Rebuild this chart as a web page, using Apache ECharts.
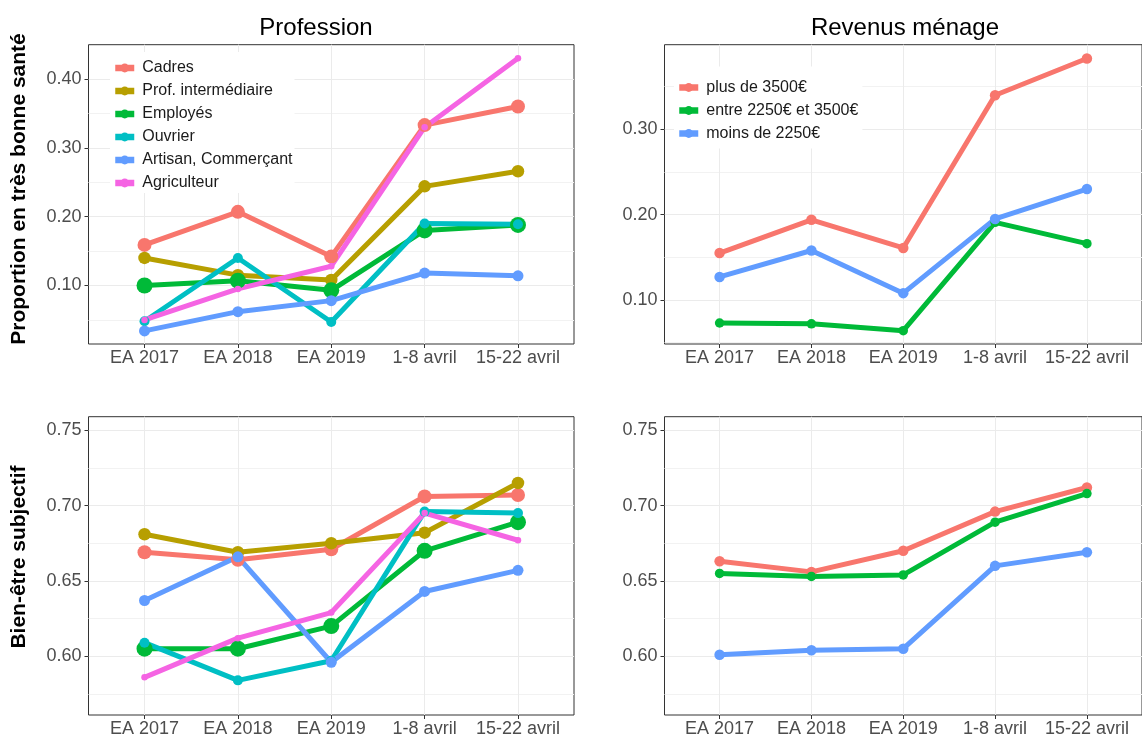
<!DOCTYPE html>
<html>
<head>
<meta charset="utf-8">
<script src="https://cdn.jsdelivr.net/npm/echarts@6/dist/echarts.min.js"></script>
<style>
html,body{margin:0;padding:0;background:#fff;}
#chart{width:1142px;height:738px;}
</style>
</head>
<body>
<div id="chart"></div>
<script>
// ---- data ----
const periods = ['EA 2017', 'EA 2018', 'EA 2019', '1-8 avril', '15-22 avril'];
const professions = ['Cadres', 'Prof. intermédiaire', 'Employés', 'Ouvrier', 'Artisan, Commerçant', 'Agriculteur'];
const revenus = ['plus de 3500€', 'entre 2250€ et 3500€', 'moins de 2250€'];

// Proportion en très bonne santé — Profession
const santeCadres = [0.159, 0.207, 0.142, 0.333, 0.360];
const santeProfInter = [0.140, 0.115, 0.108, 0.244, 0.266];
const santeEmployes = [0.100, 0.107, 0.093, 0.180, 0.188];
const santeOuvrier = [0.048, 0.140, 0.047, 0.190, 0.189];
const santeArtisan = [0.034, 0.062, 0.078, 0.118, 0.114];
const santeAgriculteur = [0.050, 0.095, 0.128, 0.330, 0.430];

// Proportion en très bonne santé — Revenus ménage
const santePlus3500 = [0.155, 0.194, 0.161, 0.340, 0.383];
const santeEntre = [0.073, 0.072, 0.064, 0.191, 0.166];
const santeMoins2250 = [0.127, 0.158, 0.108, 0.195, 0.230];

// Bien-être subjectif — Profession
const bienCadres = [0.669, 0.664, 0.671, 0.706, 0.707];
const bienProfInter = [0.681, 0.669, 0.675, 0.682, 0.715];
const bienEmployes = [0.605, 0.605, 0.620, 0.670, 0.689];
const bienOuvrier = [0.609, 0.584, 0.597, 0.696, 0.695];
const bienArtisan = [0.637, 0.666, 0.596, 0.643, 0.657];
const bienAgriculteur = [0.586, 0.612, 0.629, 0.695, 0.677];

// Bien-être subjectif — Revenus ménage
const bienPlus3500 = [0.663, 0.656, 0.670, 0.696, 0.712];
const bienEntre = [0.655, 0.653, 0.654, 0.689, 0.708];
const bienMoins2250 = [0.601, 0.604, 0.605, 0.660, 0.669];

// tick values
const ticksSanteLeft = [0.10, 0.20, 0.30, 0.40];
const minorSanteLeft = [0.05, 0.15, 0.25, 0.35];
const ticksSanteRight = [0.10, 0.20, 0.30];
const minorSanteRight = [0.05, 0.15, 0.25, 0.35];
const ticksBien = [0.60, 0.65, 0.70, 0.75];
const minorBien = [0.575, 0.625, 0.675, 0.725];

// ---- styling ----
const FONT = '"Liberation Sans", Arial, Helvetica, sans-serif';
const profColors = ['#F8766D', '#B79F00', '#00BA38', '#00BFC4', '#619CFF', '#F564E3'];
const profSizes = [14, 12.5, 16, 10, 11, 6.5];
const revColors = ['#F8766D', '#00BA38', '#619CFF'];
const revSizes = [10.5, 9.5, 10.5];

const grids = [
  {left: 88.5, top: 44.7, width: 485.5, height: 299.3},
  {left: 664.5, top: 44.7, width: 485.5, height: 299.3},
  {left: 88.5, top: 416.7, width: 485.5, height: 298.6},
  {left: 664.5, top: 416.7, width: 485.5, height: 298.6}
].map(g => Object.assign({show: true, borderColor: '#333333', borderWidth: 1, backgroundColor: 'transparent', containLabel: false}, g));

const catIdx = periods.map((_, i) => i);

function xAxisFor(gi) {
  return {
    type: 'value', gridIndex: gi, min: -0.6, max: periods.length - 0.4, position: 'bottom',
    axisLine: {show: false, onZero: false},
    axisTick: {show: true, length: 4, lineStyle: {color: '#333333', width: 1}, customValues: catIdx},
    axisLabel: {customValues: catIdx, formatter: v => periods[Math.round(v)], color: '#4D4D4D',
      fontSize: 18, fontFamily: FONT, margin: 5},
    splitLine: {show: true, lineStyle: {color: '#EBEBEB', width: 1}}
  };
}

function yAxesFor(gi, min, max, majors, minors) {
  return [
    {
      type: 'value', gridIndex: gi, min: min, max: max, position: 'left',
      axisLine: {show: false, onZero: false},
      axisTick: {show: true, length: 4, lineStyle: {color: '#333333', width: 1}, customValues: majors},
      axisLabel: {customValues: majors, formatter: v => v.toFixed(2), color: '#4D4D4D',
        fontSize: 18, fontFamily: FONT, margin: 7},
      splitLine: {show: true, lineStyle: {color: '#EBEBEB', width: 1}}
    },
    {
      type: 'value', gridIndex: gi, min: min, max: max, position: 'left',
      axisLine: {show: false, onZero: false},
      axisTick: {show: false, customValues: minors},
      axisLabel: {show: false},
      splitLine: {show: true, lineStyle: {color: '#F2F2F2', width: 1}}
    }
  ];
}

const xAxes = [0, 1, 2, 3].map(xAxisFor);
const yAxes = [].concat(
  yAxesFor(0, 0.0150, 0.4498, ticksSanteLeft, minorSanteLeft),
  yAxesFor(1, 0.0484, 0.3992, ticksSanteRight, minorSanteRight),
  yAxesFor(2, 0.561, 0.759, ticksBien, minorBien),
  yAxesFor(3, 0.561, 0.759, ticksBien, minorBien)
);

function lineSeries(name, values, gi, color, size) {
  return {
    type: 'line', name: name, xAxisIndex: gi, yAxisIndex: gi * 2,
    data: values.map((v, i) => [i, v]),
    symbol: 'circle', symbolSize: size, showSymbol: true,
    lineStyle: {color: color, width: 5, cap: 'round', join: 'round'},
    itemStyle: {color: color, borderWidth: 0},
    emphasis: {disabled: true}, animation: false, z: 3
  };
}

const santeProfSeries = [santeCadres, santeProfInter, santeEmployes, santeOuvrier, santeArtisan, santeAgriculteur];
const bienProfSeries = [bienCadres, bienProfInter, bienEmployes, bienOuvrier, bienArtisan, bienAgriculteur];
const santeRevSeries = [santePlus3500, santeEntre, santeMoins2250];
const bienRevSeries = [bienPlus3500, bienEntre, bienMoins2250];

const series = [];
santeProfSeries.forEach((vals, k) => series.push(lineSeries(professions[k], vals, 0, profColors[k], profSizes[k])));
santeRevSeries.forEach((vals, k) => series.push(lineSeries(revenus[k], vals, 1, revColors[k], revSizes[k])));
bienProfSeries.forEach((vals, k) => series.push(lineSeries(professions[k], vals, 2, profColors[k], profSizes[k])));
bienRevSeries.forEach((vals, k) => series.push(lineSeries(revenus[k], vals, 3, revColors[k], revSizes[k])));

const legendBase = {
  orient: 'vertical', backgroundColor: '#ffffff', itemWidth: 19, itemHeight: 11, itemGap: 7,
  selectedMode: false,
  textStyle: {fontSize: 16, fontFamily: FONT, color: '#1A1A1A', padding: [0, 0, 0, 3]},
  lineStyle: {width: 6.5, cap: 'butt'}
};

const option = {
  animation: false,
  backgroundColor: '#ffffff',
  title: [
    {text: 'Profession', left: 311, top: 11, textAlign: 'center',
      textStyle: {fontSize: 24, fontWeight: 'normal', color: '#000', fontFamily: FONT}},
    {text: 'Revenus ménage', left: 900, top: 11, textAlign: 'center',
      textStyle: {fontSize: 24, fontWeight: 'normal', color: '#000', fontFamily: FONT}}
  ],
  legend: [
    Object.assign({}, legendBase, {left: 110, top: 52, padding: [8, 2, 2, 2], data: professions}),
    Object.assign({}, legendBase, {left: 674, top: 66.5, padding: [13, 4, 7, 2], data: revenus})
  ],
  grid: grids,
  xAxis: xAxes,
  yAxis: yAxes,
  series: series,
  graphic: [
    {type: 'text', x: 19.5, y: 189, rotation: Math.PI / 2,
      style: {text: 'Proportion en très bonne santé', fontSize: 21, fontWeight: 'bold', fontFamily: FONT,
        fill: '#000', align: 'center', verticalAlign: 'middle'}},
    {type: 'text', x: 19.5, y: 557, rotation: Math.PI / 2,
      style: {text: 'Bien-être subjectif', fontSize: 21, fontWeight: 'bold', fontFamily: FONT,
        fill: '#000', align: 'center', verticalAlign: 'middle'}}
  ]
};

const chart = echarts.init(document.getElementById('chart'), null, {renderer: 'canvas'});
chart.setOption(option);
</script>
</body>
</html>
